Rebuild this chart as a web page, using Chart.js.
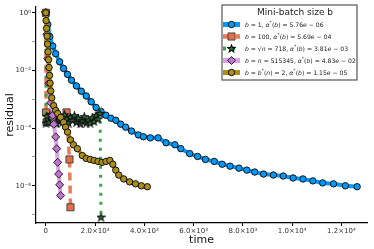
<!DOCTYPE html>
<html>
<head>
<meta charset="utf-8">
<script src="https://cdn.jsdelivr.net/npm/chart.js@4.4.1/dist/chart.umd.min.js"></script>
<style>
  html, body { margin: 0; padding: 0; background: #fff; }
</style>
</head>
<body>
<canvas id="chart" width="374" height="249"></canvas>
<script>
// series (time, residual)
const blueTime = [0, 80, 160, 280, 400, 560, 720, 880, 1040, 1240, 1440, 1640, 1840, 2040, 2240, 2440, 2640, 2840, 3040, 3240, 3480, 3760, 3960, 4240, 4560, 4880, 5240, 5480, 5840, 6160, 6480, 6840, 7160, 7480, 7840, 8160, 8480, 8840, 9240, 9640, 10040, 10440, 10840, 11240, 11680, 12160, 12640];
const blueRes = [1.0, 0.39, 0.15, 0.07, 0.038, 0.02, 0.0117, 0.0073, 0.0046, 0.0029, 0.0019, 0.0013, 8.2e-4, 5.2e-4, 3.8e-4, 2.8e-4, 2.2e-4, 1.87e-4, 1.37e-4, 1.08e-4, 7.9e-5, 5.8e-5, 5.0e-5, 4.6e-5, 4.6e-5, 3.1e-5, 2.65e-5, 1.94e-5, 1.31e-5, 1.04e-5, 8.2e-6, 7.0e-6, 5.6e-6, 4.8e-6, 4.1e-6, 3.5e-6, 3.0e-6, 2.55e-6, 2.36e-6, 2.18e-6, 1.87e-6, 1.73e-6, 1.48e-6, 1.26e-6, 1.17e-6, 1.0e-6, 9.3e-7];

const orangeTime = [0, 10, 30, 300, 600, 840, 960, 1000];
const orangeRes = [1.0, 3.5e-4, 1.6e-4, 2.4e-4, 2.0e-4, 3.5e-4, 8.2e-6, 1.8e-7];

const greenTime = [0, 10, 40, 120, 200, 280, 360, 440, 520, 600, 680, 760, 840, 920, 1000, 1080, 1160, 1240, 1320, 1400, 1480, 1560, 1640, 1720, 1800, 1880, 1960, 2040, 2120, 2200, 2240];
const greenRes = [1.0, 1.5e-4, 2.6e-4, 1.6e-4, 3.0e-4, 1.8e-4, 2.4e-4, 1.4e-4, 2.7e-4, 2.0e-4, 1.6e-4, 2.9e-4, 2.1e-4, 1.5e-4, 2.4e-4, 1.9e-4, 2.7e-4, 1.6e-4, 2.2e-4, 1.4e-4, 1.8e-4, 2.5e-4, 1.5e-4, 1.9e-4, 1.5e-4, 2.3e-4, 1.7e-4, 2.8e-4, 2.1e-4, 3.2e-4, 8.2e-8];

const purpleTime = [0, 40, 80, 120, 200, 280, 320, 400, 440, 480, 520, 560, 600];
const purpleRes = [1.0, 0.18, 0.0255, 0.0036, 7.6e-4, 2.76e-4, 1.37e-4, 4.96e-5, 1.94e-5, 6.5e-6, 2.55e-6, 1.08e-6, 4.6e-7];

const goldTime = [0, 10, 30, 50, 70, 90, 110, 130, 150, 170, 200, 240, 320, 400, 480, 600, 720, 800, 880, 1000, 1120, 1280, 1480, 1640, 1800, 1960, 2120, 2280, 2440, 2600, 2720, 2840, 2960, 3160, 3400, 3640, 3880, 4120];
const goldRes = [1.0, 0.536, 0.287, 0.154, 0.0822, 0.0441, 0.0236, 0.0126, 0.00677, 0.00363, 0.00194, 0.00112, 6.0e-4, 4.1e-4, 3.2e-4, 2.36e-4, 1.6e-4, 1.08e-4, 7.3e-5, 3.9e-5, 2.65e-5, 1.94e-5, 1.12e-5, 8.9e-6, 8.2e-6, 7.6e-6, 7.0e-6, 6.5e-6, 7.0e-6, 7.6e-6, 5.57e-6, 3.48e-6, 2.36e-6, 1.73e-6, 1.37e-6, 1.17e-6, 1.0e-6, 9.3e-7];

const seriesLabels = [
  "b = 1, α*(b) = 5.76e − 06",
  "b = 100, α*(b) = 5.69e − 04",
  "b = √n = 718, α*(b) = 3.81e − 03",
  "b = n = 515345, α*(b) = 4.83e − 02",
  "b = b*(n) = 2, α*(b) = 1.15e − 05"
];
const xTicks = [0, 2000, 4000, 6000, 8000, 10000, 12000];
const xTickLabels = ["0", "2.0×10³", "4.0×10³", "6.0×10³", "8.0×10³", "1.0×10⁴", "1.2×10⁴"];
const yTickExps = [0, -1, -2, -3, -4, -5, -6, -7];
const yTickLabels = { "0": "10⁰", "-2": "10⁻²", "-4": "10⁻⁴", "-6": "10⁻⁶" };

const toPoints = (xs, ys) => xs.map((x, i) => ({ x: x, y: ys[i] }));

// filled star marker
const makeStar = (fill) => {
  const c = document.createElement("canvas");
  c.width = 9; c.height = 9;
  const g = c.getContext("2d");
  g.beginPath();
  for (let k = 0; k < 10; k++) {
    const r = k % 2 === 0 ? 3.9 : 1.6;
    const a = -Math.PI / 2 + k * Math.PI / 5;
    const px = 4.5 + r * Math.cos(a), py = 4.8 + r * Math.sin(a);
    if (k === 0) g.moveTo(px, py); else g.lineTo(px, py);
  }
  g.closePath();
  g.fillStyle = fill;
  g.fill();
  g.lineWidth = 1.1;
  g.strokeStyle = "#111";
  g.stroke();
  return c;
};

const datasets = [
  {
    data: toPoints(blueTime, blueRes), borderColor: "#009AFA", borderWidth: 4,
    pointStyle: "circle", pointRadius: 3.2, pointBackgroundColor: "#009AFA",
    pointBorderColor: "#111", pointBorderWidth: 1, order: 5
  },
  {
    data: toPoints(orangeTime, orangeRes), borderColor: "rgba(227,111,71,0.9)", borderWidth: 3.5,
    borderDash: [8, 5], pointStyle: "rect", pointRadius: 5, pointBackgroundColor: "#E36F47",
    pointBorderColor: "#444", pointBorderWidth: 1, order: 4
  },
  {
    data: toPoints(greenTime, greenRes), borderColor: "#3EA44E", borderWidth: 3,
    borderDash: [3, 6], pointStyle: makeStar("#2f7d3c"), pointRadius: 4, order: 3
  },
  {
    data: toPoints(purpleTime, purpleRes), borderColor: "rgba(195,113,210,0.65)", borderWidth: 4,
    pointStyle: "rectRot", pointRadius: 4, pointBackgroundColor: "#C371D2",
    pointBorderColor: "#222", pointBorderWidth: 1, order: 2
  },
  {
    data: toPoints(goldTime, goldRes), borderColor: "#AC8E18", borderWidth: 4,
    pointStyle: "circle", pointRadius: 3.2, pointBackgroundColor: "#AC8E18",
    pointBorderColor: "#111", pointBorderWidth: 1, order: 1
  }
];
datasets.forEach((d, i) => { d.label = seriesLabels[i]; d.tension = 0; d.fill = false; });

// draw one legend label, letters in italic, '*' raised
const drawMath = (ctx, text, x, y, size) => {
  let cx = x;
  for (const ch of text) {
    if (ch === "*") {
      ctx.font = (size * 0.75) + "px 'DejaVu Sans'";
      ctx.fillText(ch, cx, y - size * 0.35);
    } else {
      const it = /[a-zα]/.test(ch);
      ctx.font = (it ? "italic " : "") + size + "px 'DejaVu Sans'";
      ctx.fillText(ch, cx, y);
    }
    cx += ctx.measureText(ch).width;
  }
};

const legendBox = {
  id: "legendBox",
  afterDraw(chart) {
    const ctx = chart.ctx;
    const left = 222, top = 5, right = 357, bottom = 80;
    ctx.save();
    ctx.fillStyle = "#fff";
    ctx.fillRect(left, top, right - left, bottom - top);
    ctx.strokeStyle = "#555";
    ctx.lineWidth = 1.2;
    ctx.strokeRect(left, top, right - left, bottom - top);
    ctx.fillStyle = "#222";
    ctx.font = "9px 'DejaVu Sans'";
    ctx.textAlign = "center";
    ctx.textBaseline = "middle";
    ctx.fillText("Mini-batch size b", 295, 13);
    ctx.textAlign = "left";
    chart.data.datasets.forEach((d, i) => {
      const y = 24.5 + 12 * i;
      ctx.strokeStyle = d.borderColor;
      ctx.lineWidth = d.borderWidth + 1;
      ctx.setLineDash(d.borderDash || []);
      ctx.beginPath();
      ctx.moveTo(223, y);
      ctx.lineTo(240, y);
      ctx.stroke();
      ctx.setLineDash([]);
      ctx.fillStyle = d.pointBackgroundColor || d.borderColor;
      ctx.strokeStyle = d.pointBorderColor || "#111";
      ctx.lineWidth = d.pointBorderWidth || 1;
      Chart.helpers.drawPoint(ctx, { pointStyle: d.pointStyle, radius: d.pointRadius, rotation: 0, borderWidth: 1 }, 231.5, y);
      ctx.fillStyle = "#222";
      drawMath(ctx, d.label, 245, y + 0.5, 6.1);
    });
    ctx.restore();
  }
};

new Chart(document.getElementById("chart"), {
  type: "line",
  data: { datasets: datasets },
  plugins: [legendBox],
  options: {
    responsive: false,
    animation: false,
    layout: { padding: { top: 2, right: 2, left: 0, bottom: 0 } },
    plugins: { legend: { display: false }, tooltip: { enabled: false } },
    scales: {
      x: {
        type: "linear", min: -400, max: 13040,
        afterBuildTicks: s => { s.ticks = xTicks.map(v => ({ value: v })); },
        afterFit: s => { s.height = 26; },
        ticks: {
          autoSkip: false, maxRotation: 0, padding: 1, color: "#333",
          font: { family: "DejaVu Sans", size: 7 },
          callback: v => xTickLabels[xTicks.indexOf(v)]
        },
        grid: { drawOnChartArea: false, drawTicks: true, tickLength: 3, tickColor: "#000" },
        border: { display: true, color: "#000", width: 1.2 },
        title: { display: true, text: "time", color: "#111", font: { family: "DejaVu Sans", size: 11 }, padding: { top: 0, bottom: 2 } }
      },
      y: {
        type: "logarithmic", min: Math.pow(10, -7.29), max: Math.pow(10, 0.2),
        afterBuildTicks: s => { s.ticks = yTickExps.map(e => ({ value: Math.pow(10, e) })); },
        afterFit: s => { s.width = 36; },
        ticks: {
          autoSkip: false, padding: 1, color: "#333",
          font: { family: "DejaVu Sans", size: 7 },
          callback: v => yTickLabels[String(Math.round(Math.log10(v)))] || ""
        },
        grid: {
          drawOnChartArea: false, drawTicks: true, tickLength: 4,
          tickColor: c => (Math.round(Math.log10(c.tick.value)) % 2 === 0 ? "#000" : "#999")
        },
        border: { display: true, color: "#000", width: 1.2 },
        title: { display: true, text: "residual", color: "#111", font: { family: "DejaVu Sans", size: 11 }, padding: { top: 4, bottom: 0 } }
      }
    }
  }
});
</script>
</body>
</html>
